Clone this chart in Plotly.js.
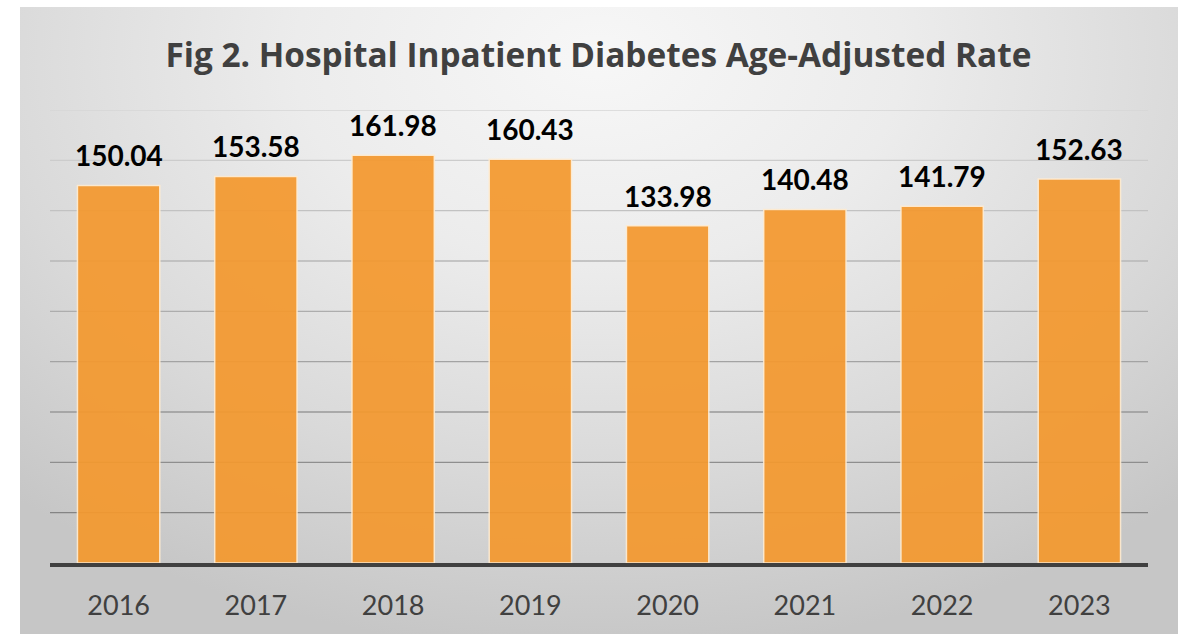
<!DOCTYPE html>
<html>
<head>
<meta charset="utf-8">
<script src="https://cdn.plot.ly/plotly-3.0.1.min.js"></script>
<style>
  html, body { margin: 0; padding: 0; background: #ffffff; width: 1178px; height: 634px; overflow: hidden; }
  #bg { position: absolute; left: 20px; top: 7px; width: 1158px; height: 627px;
        background: radial-gradient(ellipse 75% 95% at 50% 8%, #f7f7f7 0%, #ececec 35%, #d9d9d9 70%, #c6c6c6 100%); }
  #chart { position: absolute; left: 0; top: 0; width: 1178px; height: 634px; }
</style>
</head>
<body>
<div id="bg"></div>
<div id="chart"></div>
<script>
  const years = ['2016', '2017', '2018', '2019', '2020', '2021', '2022', '2023'];
  const rates = [150.04, 153.58, 161.98, 160.43, 133.98, 140.48, 141.79, 152.63];
  const rateLabels = ['150.04', '153.58', '161.98', '160.43', '133.98', '140.48', '141.79', '152.63'];
  const gridValues = [20, 40, 60, 80, 100, 120, 140, 160, 180];
  const titleText = 'Fig 2. Hospital Inpatient Diabetes Age-Adjusted Rate';

  const FONT = 'Lato, "Open Sans", sans-serif';
  const TITLE_FONT = '"Open Sans", Lato, sans-serif';

  function gridColor(v) {
    const t = (v - 20) / 160;
    const c = Math.round(0x84 + t * (0xd6 - 0x84));
    return 'rgb(' + c + ',' + c + ',' + c + ')';
  }

  const shapes = gridValues.map(v => ({
    type: 'line', xref: 'paper', x0: 0, x1: 1, yref: 'y', y0: v, y1: v,
    line: { color: gridColor(v), width: 1.3 }, layer: 'below'
  }));

  // category axis: annotation x given as category index
  const annotations = years.map((yr, i) => ({
    x: i, y: rates[i], xref: 'x', yref: 'y', text: rateLabels[i],
    showarrow: false, yanchor: 'bottom', yshift: 11,
    font: { family: FONT, size: 28, color: '#000000', weight: 'bold' }
  }));

  const trace = {
    type: 'bar', x: years, y: rates,
    marker: { color: '#f4992f', opacity: 0.93, line: { color: 'rgba(255,236,210,0.95)', width: 1.5 } },
    hoverinfo: 'x+y'
  };

  const layout = {
    width: 1178, height: 634,
    paper_bgcolor: 'rgba(0,0,0,0)', plot_bgcolor: 'rgba(0,0,0,0)',
    margin: { l: 50, r: 30, t: 110, b: 71 },
    bargap: 0.4,
    showlegend: false,
    title: {
      text: '<b>' + titleText + '</b>',
      x: 0.508, xanchor: 'center', y: 1 - 55 / 634, yanchor: 'middle', yref: 'container',
      font: { family: TITLE_FONT, size: 33.4, color: '#404040' }
    },
    xaxis: {
      type: 'category', range: [-0.5, years.length - 0.5], autorange: false,
      showgrid: false, zeroline: false,
      showline: true, linecolor: '#404040', linewidth: 3.5,
      ticks: '', ticklabelstandoff: 16,
      tickfont: { family: FONT, size: 27, color: '#404040' }
    },
    yaxis: {
      range: [0, 180], autorange: false, showgrid: false, zeroline: false, showline: false,
      showticklabels: false, ticks: ''
    },
    shapes: shapes,
    annotations: annotations
  };

  Plotly.newPlot('chart', [trace], layout, { displayModeBar: false, staticPlot: true });
</script>
</body>
</html>
